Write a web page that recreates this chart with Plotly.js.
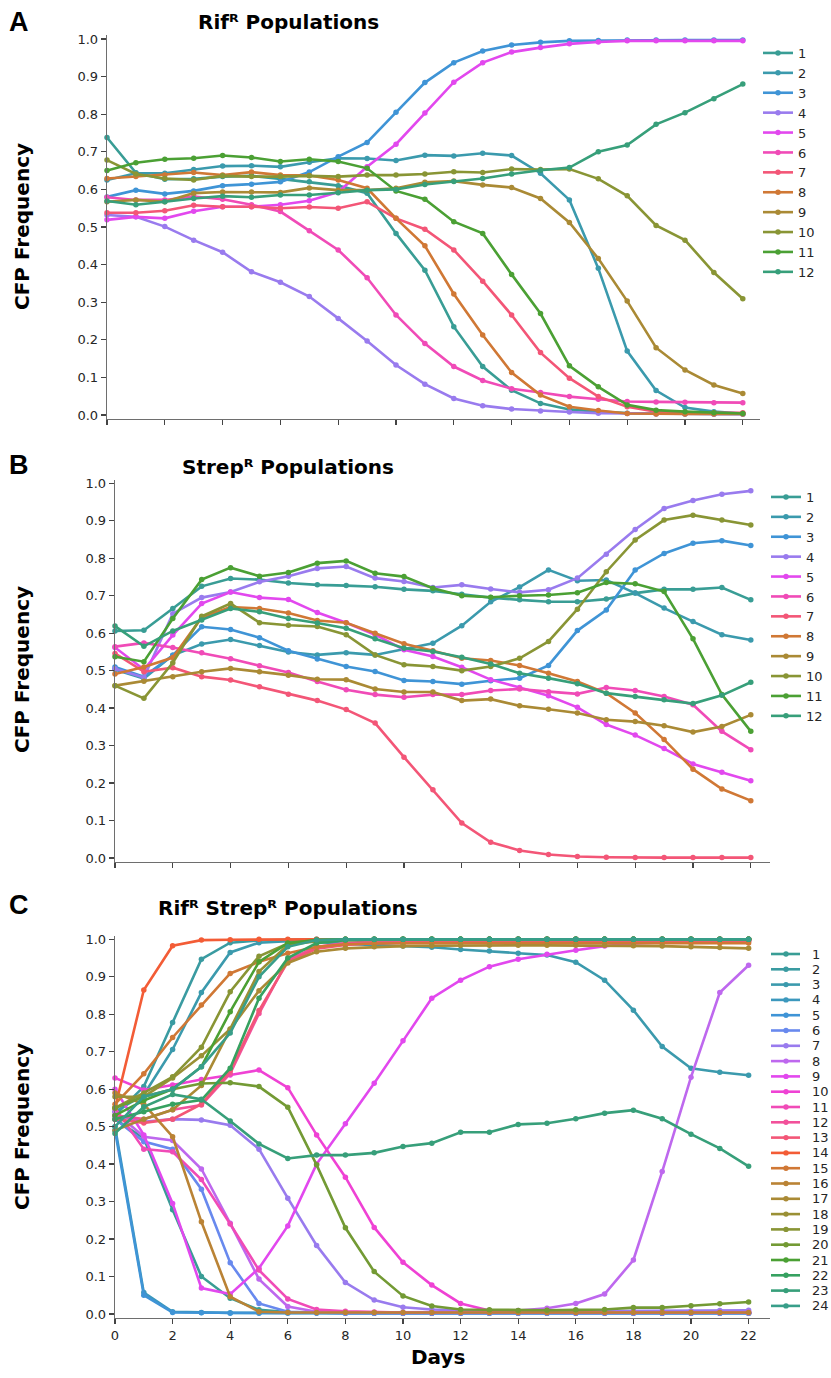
<!DOCTYPE html>
<html><head><meta charset="utf-8">
<script src="https://cdn.plot.ly/plotly-3.0.1.min.js"></script>
<style>html,body{margin:0;padding:0;background:#fff;} #chart{width:831px;height:1378px;}</style>
</head><body><div id="chart"></div>
<script>
// ---------------- DATA ----------------
const days = [0,1,2,3,4,5,6,7,8,9,10,11,12,13,14,15,16,17,18,19,20,21,22];
const xTickVals = [0,2,4,6,8,10,12,14,16,18,20,22];
const yTickVals = [0,0.1,0.2,0.3,0.4,0.5,0.6,0.7,0.8,0.9,1.0];

// Panel A: RifR populations
const A1  = [0.738,0.644,0.627,0.628,0.634,0.636,0.628,0.620,0.610,0.590,0.483,0.385,0.235,0.129,0.066,0.031,0.015,0.009,0.005,0.004,0.003,0.003,0.003];
const A2  = [0.625,0.643,0.643,0.653,0.662,0.663,0.660,0.672,0.683,0.682,0.677,0.691,0.689,0.696,0.690,0.643,0.572,0.390,0.170,0.065,0.020,0.009,0.004];
const A3  = [0.580,0.598,0.588,0.596,0.610,0.614,0.620,0.646,0.687,0.725,0.805,0.884,0.937,0.968,0.984,0.991,0.995,0.996,0.997,0.997,0.997,0.997,0.997];
const A4  = [0.532,0.527,0.501,0.465,0.433,0.381,0.353,0.315,0.257,0.197,0.133,0.082,0.044,0.025,0.016,0.011,0.008,0.005,0.004,0.003,0.003,0.002,0.002];
const A5  = [0.519,0.527,0.523,0.542,0.554,0.554,0.559,0.570,0.593,0.660,0.720,0.803,0.885,0.937,0.965,0.977,0.987,0.992,0.995,0.995,0.995,0.995,0.995];
const A6  = [0.579,0.572,0.572,0.581,0.574,0.559,0.541,0.490,0.439,0.365,0.266,0.190,0.129,0.092,0.070,0.060,0.049,0.042,0.036,0.035,0.034,0.033,0.033];
const A7  = [0.538,0.538,0.543,0.558,0.554,0.554,0.550,0.553,0.550,0.567,0.523,0.494,0.439,0.356,0.266,0.166,0.098,0.049,0.022,0.009,0.006,0.006,0.006];
const A8  = [0.629,0.634,0.638,0.645,0.638,0.646,0.638,0.637,0.625,0.603,0.523,0.450,0.322,0.213,0.113,0.053,0.022,0.012,0.004,0.003,0.003,0.003,0.003];
const A9  = [0.567,0.572,0.567,0.590,0.593,0.593,0.592,0.604,0.598,0.598,0.603,0.619,0.622,0.612,0.605,0.576,0.512,0.416,0.303,0.179,0.120,0.080,0.057];
const A10 = [0.678,0.641,0.629,0.625,0.636,0.634,0.634,0.636,0.634,0.638,0.638,0.641,0.647,0.645,0.654,0.653,0.654,0.628,0.583,0.504,0.465,0.379,0.309];
const A11 = [0.650,0.671,0.680,0.683,0.690,0.685,0.674,0.680,0.674,0.656,0.596,0.574,0.514,0.483,0.374,0.270,0.131,0.075,0.027,0.013,0.009,0.006,0.004];
const A12 = [0.569,0.559,0.567,0.576,0.582,0.579,0.585,0.585,0.591,0.598,0.600,0.613,0.621,0.629,0.641,0.651,0.658,0.700,0.718,0.773,0.804,0.841,0.880];

// Panel B: StrepR populations
const B1  = [0.606,0.608,0.666,0.725,0.746,0.743,0.734,0.729,0.727,0.724,0.717,0.713,0.704,0.695,0.689,0.684,0.684,0.691,0.707,0.717,0.717,0.722,0.689];
const B2  = [0.503,0.479,0.541,0.571,0.583,0.567,0.550,0.542,0.548,0.542,0.558,0.573,0.620,0.684,0.723,0.769,0.740,0.742,0.707,0.667,0.631,0.596,0.582];
const B3  = [0.510,0.484,0.541,0.617,0.610,0.588,0.553,0.531,0.511,0.498,0.474,0.471,0.464,0.473,0.480,0.514,0.607,0.662,0.769,0.813,0.840,0.847,0.834];
const B4  = [0.505,0.482,0.652,0.695,0.710,0.737,0.752,0.773,0.778,0.747,0.738,0.722,0.729,0.718,0.709,0.716,0.747,0.811,0.877,0.933,0.954,0.971,0.980];
const B5  = [0.562,0.503,0.595,0.679,0.710,0.695,0.690,0.655,0.628,0.596,0.556,0.538,0.509,0.476,0.455,0.433,0.402,0.356,0.328,0.292,0.251,0.229,0.206];
const B6  = [0.564,0.574,0.562,0.548,0.532,0.513,0.495,0.471,0.449,0.436,0.429,0.436,0.436,0.447,0.451,0.444,0.438,0.455,0.447,0.431,0.409,0.338,0.289];
const B7  = [0.546,0.497,0.508,0.484,0.475,0.457,0.437,0.420,0.396,0.360,0.269,0.182,0.093,0.042,0.020,0.009,0.004,0.002,0.001,0.001,0.001,0.001,0.001];
const B8  = [0.491,0.510,0.535,0.642,0.670,0.666,0.654,0.634,0.628,0.600,0.572,0.553,0.533,0.527,0.514,0.493,0.471,0.440,0.387,0.316,0.237,0.184,0.153];
const B9  = [0.460,0.472,0.484,0.497,0.506,0.497,0.488,0.477,0.476,0.451,0.443,0.443,0.420,0.424,0.406,0.397,0.387,0.369,0.364,0.353,0.336,0.351,0.382];
const B10 = [0.460,0.426,0.521,0.645,0.679,0.628,0.621,0.618,0.596,0.542,0.516,0.511,0.500,0.511,0.533,0.578,0.664,0.764,0.849,0.902,0.915,0.902,0.889];
const B11 = [0.537,0.524,0.639,0.743,0.775,0.752,0.762,0.787,0.793,0.760,0.751,0.720,0.700,0.696,0.700,0.702,0.708,0.735,0.732,0.711,0.585,0.436,0.338];
const B12 = [0.619,0.565,0.606,0.635,0.666,0.657,0.639,0.627,0.613,0.585,0.560,0.551,0.536,0.518,0.493,0.480,0.465,0.440,0.431,0.422,0.412,0.434,0.469];

// Panel C: RifR StrepR populations
const C1  = [0.520,0.469,0.278,0.100,0.042,0.011,0.005,0.003,0.002,0.002,0.002,0.002,0.002,0.002,0.002,0.002,0.002,0.002,0.002,0.002,0.002,0.002,0.002];
const C2  = [0.530,0.607,0.778,0.947,0.991,0.997,0.999,1.000,1.000,1.000,1.000,1.000,1.000,1.000,1.000,1.000,1.000,1.000,1.000,1.000,1.000,1.000,1.000];
const C3  = [0.540,0.585,0.706,0.858,0.965,0.991,0.995,0.993,0.988,0.985,0.982,0.979,0.973,0.969,0.963,0.958,0.939,0.891,0.811,0.714,0.656,0.645,0.637];
const C4  = [0.500,0.057,0.006,0.004,0.003,0.003,0.003,0.003,0.003,0.003,0.003,0.003,0.003,0.003,0.003,0.003,0.003,0.003,0.003,0.003,0.003,0.003,0.003];
const C5  = [0.490,0.050,0.004,0.003,0.002,0.002,0.002,0.002,0.002,0.002,0.002,0.002,0.002,0.002,0.002,0.002,0.002,0.002,0.002,0.002,0.002,0.002,0.002];
const C6  = [0.520,0.460,0.440,0.333,0.137,0.028,0.006,0.003,0.002,0.002,0.002,0.002,0.002,0.002,0.002,0.002,0.002,0.002,0.002,0.002,0.002,0.002,0.002];
const C7  = [0.530,0.513,0.520,0.518,0.504,0.440,0.309,0.183,0.084,0.037,0.018,0.012,0.010,0.009,0.008,0.008,0.008,0.008,0.008,0.008,0.008,0.009,0.010];
const C8  = [0.540,0.473,0.463,0.387,0.242,0.093,0.020,0.006,0.004,0.004,0.004,0.004,0.005,0.006,0.009,0.015,0.028,0.053,0.144,0.380,0.632,0.858,0.931];
const C9  = [0.600,0.478,0.295,0.069,0.053,0.122,0.235,0.400,0.508,0.616,0.729,0.843,0.891,0.927,0.947,0.960,0.971,0.982,0.989,0.992,0.994,0.995,0.996];
const C10 = [0.630,0.598,0.611,0.626,0.638,0.651,0.604,0.478,0.365,0.231,0.138,0.077,0.028,0.009,0.005,0.005,0.004,0.004,0.004,0.004,0.004,0.004,0.004];
const C11 = [0.550,0.440,0.433,0.359,0.240,0.117,0.040,0.012,0.007,0.005,0.004,0.004,0.004,0.004,0.004,0.004,0.004,0.004,0.004,0.004,0.004,0.004,0.004];
const C12 = [0.530,0.520,0.545,0.558,0.642,0.802,0.945,0.980,0.990,0.995,0.997,0.998,0.999,1.000,1.000,1.000,1.000,1.000,1.000,1.000,1.000,1.000,1.000];
const C13 = [0.520,0.510,0.520,0.560,0.650,0.810,0.940,0.975,0.985,0.990,0.992,0.993,0.994,0.995,0.995,0.995,0.995,0.995,0.995,0.995,0.995,0.995,0.995];
const C14 = [0.550,0.865,0.983,0.998,0.999,1.000,1.000,1.000,1.000,1.000,1.000,1.000,1.000,1.000,1.000,1.000,1.000,1.000,1.000,1.000,1.000,1.000,1.000];
const C15 = [0.560,0.641,0.738,0.825,0.909,0.940,0.963,0.980,0.987,0.989,0.990,0.990,0.990,0.990,0.990,0.990,0.990,0.990,0.990,0.990,0.990,0.990,0.990];
const C16 = [0.590,0.560,0.473,0.246,0.046,0.006,0.004,0.004,0.004,0.004,0.004,0.004,0.004,0.004,0.004,0.004,0.004,0.004,0.004,0.004,0.004,0.004,0.004];
const C17 = [0.490,0.520,0.545,0.610,0.760,0.863,0.937,0.967,0.976,0.980,0.982,0.983,0.984,0.984,0.984,0.984,0.984,0.984,0.983,0.982,0.980,0.978,0.976];
const C18 = [0.580,0.580,0.630,0.689,0.761,0.914,0.985,0.995,0.998,0.999,1.000,1.000,1.000,1.000,1.000,1.000,1.000,1.000,1.000,1.000,1.000,1.000,1.000];
const C19 = [0.550,0.590,0.633,0.712,0.860,0.955,0.989,0.998,1.000,1.000,1.000,1.000,1.000,1.000,1.000,1.000,1.000,1.000,1.000,1.000,1.000,1.000,1.000];
const C20 = [0.550,0.580,0.600,0.615,0.617,0.607,0.552,0.398,0.230,0.113,0.048,0.021,0.012,0.011,0.009,0.010,0.011,0.012,0.017,0.017,0.022,0.027,0.032];
const C21 = [0.530,0.570,0.600,0.660,0.807,0.940,0.990,0.998,1.000,1.000,1.000,1.000,1.000,1.000,1.000,1.000,1.000,1.000,1.000,1.000,1.000,1.000,1.000];
const C22 = [0.520,0.540,0.560,0.571,0.656,0.843,0.950,0.990,0.998,1.000,1.000,1.000,1.000,1.000,1.000,1.000,1.000,1.000,1.000,1.000,1.000,1.000,1.000];
const C23 = [0.482,0.553,0.586,0.573,0.515,0.454,0.415,0.424,0.424,0.430,0.447,0.456,0.485,0.485,0.506,0.509,0.521,0.536,0.544,0.521,0.480,0.442,0.394];
const C24 = [0.500,0.580,0.600,0.660,0.750,0.900,0.980,0.998,1.000,1.000,1.000,1.000,1.000,1.000,1.000,1.000,1.000,1.000,1.000,1.000,1.000,1.000,1.000];

const seriesA = [A1,A2,A3,A4,A5,A6,A7,A8,A9,A10,A11,A12];
const seriesB = [B1,B2,B3,B4,B5,B6,B7,B8,B9,B10,B11,B12];
const seriesC = [C1,C2,C3,C4,C5,C6,C7,C8,C9,C10,C11,C12,C13,C14,C15,C16,C17,C18,C19,C20,C21,C22,C23,C24];

// ---------------- COLOURS (HUSL palette) ----------------
const M = [[3.240969941904521,-1.537383177570093,-0.498610760293],
           [-0.96924363628087,1.87596750150772,0.041555057407175],
           [0.055630079696993,-0.20397695888897,1.056971514242878]];
const refU = 0.19783000664283, refV = 0.46831999493879, kappa = 903.2962962, epsilon = 0.0088564516;
function bounds(L){
  const out=[]; const s1=Math.pow(L+16,3)/1560896; const s2 = s1>epsilon ? s1 : L/kappa;
  for(let c=0;c<3;c++){ const [m1,m2,m3]=M[c];
    for(let t=0;t<2;t++){
      const top1=(284517*m1-94839*m3)*s2;
      const top2=(838422*m3+769860*m2+731718*m1)*L*s2-769860*t*L;
      const bot=(632260*m3-126452*m2)*s2+126452*t;
      out.push([top1/bot, top2/bot]);
    }}
  return out;
}
function maxChroma(L,H){ const h=H/360*2*Math.PI; let mn=Infinity;
  for(const [sl,ic] of bounds(L)){ const len=ic/(Math.sin(h)-sl*Math.cos(h)); if(len>=0) mn=Math.min(mn,len);} return mn; }
function husl(H,S,L){
  const C = maxChroma(L,H)/100*S; const hr=H/180*Math.PI;
  const U=Math.cos(hr)*C, V=Math.sin(hr)*C;
  const vu=U/(13*L)+refU, vv=V/(13*L)+refV;
  const Y = L<=8 ? L/kappa : Math.pow((L+16)/116,3);
  const X = -(9*Y*vu)/((vu-4)*vv-vu*vv);
  const Z = (9*Y-15*vv*Y-vv*X)/(3*vv);
  const f=c=> c<=0.0031308 ? 12.92*c : 1.055*Math.pow(c,1/2.4)-0.055;
  const rgb = M.map(r=>Math.round(255*Math.min(1,Math.max(0,f(r[0]*X+r[1]*Y+r[2]*Z)))));
  return 'rgb('+rgb.join(',')+')';
}
function palette(n){ const c=[]; for(let i=0;i<n;i++){ c.push(husl((183.6+360*i/n)%360, 85, 59)); } return c; }
const colA = palette(12), colC = palette(24);

// ---------------- LAYOUT GEOMETRY ----------------
const W=831, H=1378;
const px = x=>x/W, py = y=>1-y/H;
const geo = [
  {x0:107, x1:760, yt:35.2, yb:418.8, dayPx:28.9},
  {x0:115, x1:770, yt:479.6, yb:861.7, dayPx:28.9},
  {x0:115, x1:770, yt:935.6, yb:1317.7, dayPx:28.8}
];
const FONT = 'DejaVu Sans';
const traces = [];
function addPanel(series, cols, ax, legendName){
  series.forEach((ys,i)=>{
    traces.push({x:days, y:ys, type:'scatter', mode:'lines+markers', name:String(i+1),
      xaxis:'x'+(ax===1?'':ax), yaxis:'y'+(ax===1?'':ax),
      line:{color:cols[i], width:2.6}, marker:{color:cols[i], size:5.5},
      cliponaxis:false, showlegend: !!legendName, legend: legendName || 'legend', hoverinfo:'skip'});
  });
}
addPanel(seriesA, colA, 1, 'legend');
addPanel(seriesB, colA, 2, 'legend2');
addPanel(seriesC, colC, 3, null);

const axBase = {showline:true, linecolor:'#6e6e6e', linewidth:1.3, ticks:'outside', ticklen:5, tickwidth:1.3,
  tickcolor:'#444', showgrid:false, zeroline:false, tickfont:{family:FONT, size:13, color:'#262626'}, fixedrange:true};
const layout = {width:W, height:H, margin:{l:0,r:0,t:0,b:0}, paper_bgcolor:'#fff', plot_bgcolor:'rgba(0,0,0,0)',
  showlegend:true, annotations:[], shapes:[]};
geo.forEach((g,k)=>{
  const sx = k===0?'xaxis':'xaxis'+(k+1), sy = k===0?'yaxis':'yaxis'+(k+1);
  const xr = (g.x1-g.x0)/g.dayPx;
  layout[sx] = Object.assign({}, axBase, {domain:[px(g.x0), px(g.x1)], range:[0,xr], tickvals:xTickVals,
     showticklabels: k===2, anchor: 'y'+(k===0?'':k+1)});
  layout[sy] = Object.assign({}, axBase, {domain:[py(g.yb), py(g.yt)], range:[-0.01,1.01], tickvals:yTickVals,
     tickformat:'.1f', anchor:'x'+(k===0?'':k+1)});
});
const legBase = {xanchor:'left', yanchor:'top', bgcolor:'rgba(0,0,0,0)', borderwidth:0,
  font:{family:FONT, size:13, color:'#262626'}, tracegroupgap:0};
layout.legend  = Object.assign({}, legBase, {x:px(758), y:py(38)});
layout.legend2 = Object.assign({}, legBase, {x:px(766), y:py(482)});

// manual legend for panel C (24 entries, tighter spacing than a Plotly legend allows)
seriesC.forEach((s,i)=>{
  const yy = 954 + i*15.3;
  layout.shapes.push({type:'line', xref:'paper', yref:'paper', x0:px(771), x1:px(800), y0:py(yy), y1:py(yy),
    line:{color:colC[i], width:2.6}});
  layout.shapes.push({type:'circle', xref:'paper', yref:'paper', x0:px(783.3), x1:px(788.7), y0:py(yy+2.7), y1:py(yy-2.7),
    fillcolor:colC[i], line:{width:0}});
  layout.annotations.push({text:String(i+1), xref:'paper', yref:'paper', x:px(810), y:py(yy), xanchor:'left', yanchor:'middle',
    showarrow:false, font:{family:FONT, size:13, color:'#262626'}});
});

// titles and labels (superscript R as the modifier letter U+1D3F)
const ann = (text,x,y,size,opts)=>layout.annotations.push(Object.assign({text, xref:'paper', yref:'paper', x:px(x), y:py(y),
  xanchor:'center', yanchor:'middle', showarrow:false, font:{family:FONT, size, color:'#000', weight:'bold'}}, opts||{}));
ann('Rif\u1D3F Populations', 288, 22, 20);
ann('Strep\u1D3F Populations', 288, 467, 20);
ann('Rif\u1D3F Strep\u1D3F Populations', 288, 908, 20);
ann('CFP Frequency', 22, 227, 20, {textangle:-90});
ann('CFP Frequency', 22, 670, 20, {textangle:-90});
ann('CFP Frequency', 22, 1127, 20, {textangle:-90});
ann('Days', 438, 1357, 20);
ann('A', 19, 22, 27, {font:{family:'Liberation Sans', size:27, color:'#000', weight:'bold'}});
ann('B', 19, 465, 27, {font:{family:'Liberation Sans', size:27, color:'#000', weight:'bold'}});
ann('C', 19, 905, 27, {font:{family:'Liberation Sans', size:27, color:'#000', weight:'bold'}});

Plotly.newPlot('chart', traces, layout, {staticPlot:true, displayModeBar:false});
</script>
</body></html>
